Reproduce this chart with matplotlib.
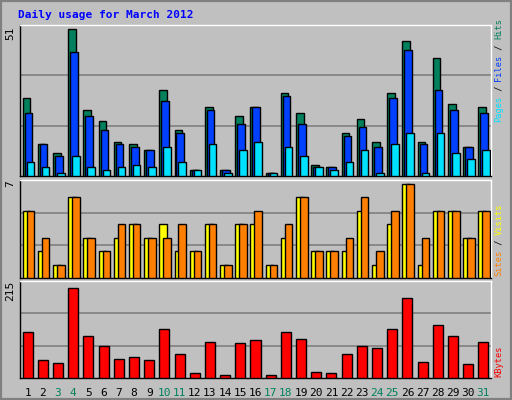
import numpy as np
import matplotlib.pyplot as plt
from matplotlib.patches import Rectangle

days = np.arange(1, 32)
hits = [27, 11, 8, 51, 23, 19, 12, 11, 9, 30, 16, 2, 24, 2, 21, 24, 1, 29, 22, 4, 3, 15, 20, 12, 29, 47, 12, 41, 25, 10, 24]
files = [22, 11, 7, 43, 21, 16, 11, 10, 9, 26, 15, 2, 23, 2, 18, 24, 1, 28, 18, 3, 3, 14, 17, 10, 27, 44, 11, 30, 23, 10, 22]
pages = [5, 3, 1, 7, 3, 2, 3, 4, 3, 10, 5, 2, 11, 1, 9, 12, 1, 10, 7, 3, 2, 5, 9, 1, 11, 15, 1, 15, 8, 6, 9]
visits = [5, 2, 1, 6, 3, 2, 3, 4, 3, 4, 2, 2, 4, 1, 4, 4, 1, 3, 6, 2, 2, 2, 5, 1, 4, 7, 1, 5, 5, 3, 5]
sites = [5, 3, 1, 6, 3, 2, 4, 4, 3, 3, 4, 2, 4, 1, 4, 5, 1, 4, 6, 2, 2, 3, 6, 2, 5, 7, 3, 5, 5, 3, 5]
kbytes = [107, 41, 35, 207, 96, 73, 44, 48, 41, 114, 55, 12, 84, 8, 80, 87, 8, 105, 89, 14, 12, 55, 73, 69, 112, 184, 37, 123, 96, 32, 82]
weekend = [3, 4, 10, 11, 17, 18, 24, 25, 31]

W, H = 512, 400
fig = plt.figure(figsize=(W / 100, H / 100), dpi=100, facecolor='#C0C0C0')
mono = 'DejaVu Sans Mono'

# outer bevel
fig.patches.append(Rectangle((0, 0), 1, 1, transform=fig.transFigure, fill=False,
                             edgecolor='#808080', lw=3))

def panel(y0, y1):
    ax = fig.add_axes([20 / W, 1 - y1 / H, 471 / W, (y1 - y0) / H])
    ax.set_facecolor('#C0C0C0')
    ax.set_xlim(0.5, 31.5)
    ax.set_xticks([])
    ax.set_yticks([])
    for s in ax.spines.values():
        s.set_color('black')
        s.set_linewidth(1)
    ax.spines['top'].set_color('white')
    ax.spines['right'].set_color('white')
    return ax

kw = dict(edgecolor='black', linewidth=1, align='edge', zorder=3)

ax1 = panel(25, 176)
top1 = 51 * 1.03
ax1.set_ylim(0, top1)
for g in (top1 / 3, 2 * top1 / 3):
    ax1.axhline(g, color='#808080', lw=1.2, zorder=1)
ax1.bar(days - 0.33, hits, 0.5, color='#00805C', **kw)
ax1.bar(days - 0.2, files, 0.5, color='#0040FF', **kw)
ax1.bar(days - 0.07, pages, 0.5, color='#00E0FF', **kw)

ax2 = panel(180, 278)
top2 = 7 * 1.04
ax2.set_ylim(0, top2)
for g in (top2 / 3, 2 * top2 / 3):
    ax2.axhline(g, color='#808080', lw=1.2, zorder=1)
ax2.bar(days - 0.33, visits, 0.5, color='#FFFF00', **kw)
ax2.bar(days - 0.07, sites, 0.5, color='#FF8000', **kw)

ax3 = panel(281, 378)
top3 = 215 * 1.04
ax3.set_ylim(0, top3)
for g in (top3 / 3, 2 * top3 / 3):
    ax3.axhline(g, color='#808080', lw=1.2, zorder=1)
ax3.bar(days - 0.33, kbytes, 0.66, color='#FF0000', **kw)

for d in days:
    ax3.text(d, -0.1, str(d), transform=ax3.get_xaxis_transform(), ha='center', va='top',
             fontsize=8, family=mono, color='#00805C' if d in weekend else 'black')

fig.text(18 / W, 1 - 15 / H, 'Daily usage for March 2012', color='#0000FF', family=mono,
         fontsize=8, fontweight='bold', va='center')

for txt, y in (('51', 27), ('7', 180), ('215', 281)):
    fig.text(10 / W, 1 - y / H, txt, rotation=90, family=mono, fontsize=8, ha='center', va='top')

FS = 6.2
STEP = 0.602 * FS * 100 / 72

def side(parts, ybottom):
    y = ybottom
    for t, c in parts:
        fig.text(499 / W, 1 - y / H, t, rotation=90, family=mono, fontsize=FS,
                 color=c, ha='center', va='bottom')
        y -= len(t) * STEP

side([('Pages', '#00E0FF'), (' / ', '#000000'), ('Files', '#0040FF'), (' / ', '#000000'), ('Hits', '#00805C')], 122)
side([('Sites', '#FF8000'), (' / ', '#000000'), ('Visits', '#FFFF00')], 276)
side([('KBytes', '#FF0000')], 377)

fig.savefig('out.png', dpi=100, facecolor=fig.get_facecolor())
